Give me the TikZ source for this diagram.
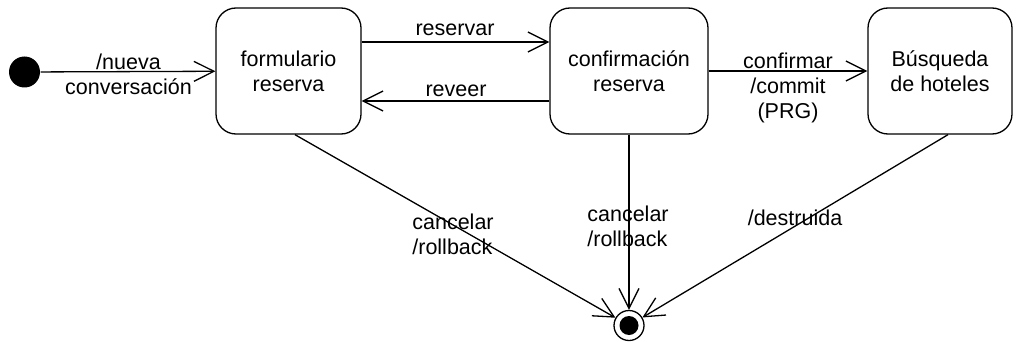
\documentclass[tikz,border=0pt]{standalone}
\usepackage{fontspec}
\setmainfont{Liberation Sans}
\usetikzlibrary{arrows.meta}

\tikzset{
  estado/.style={draw, line width=1.3pt, rounded corners=20pt, minimum height=126pt, align=center, inner sep=0pt},
  etiqueta/.style={align=center, inner sep=0pt},
}

\begin{document}
\begin{tikzpicture}[x=1pt, y=-1pt, line width=1.3pt, font=\fontsize{21.5}{25}\selectfont]

\useasboundingbox (0,0) rectangle (1016,342);

\node[circle, fill, minimum size=31pt, inner sep=0pt] (inicio) at (24.5,72) {};
\node[estado, minimum width=145pt] (form) at (288.5,71) {formulario\\reserva};
\node[estado, minimum width=158pt] (conf) at (629,71) {confirmación\\reserva};
\node[estado, minimum width=144pt] (busq) at (940,71) {Búsqueda\\de hoteles};

\node[circle, draw, minimum size=30pt, inner sep=0pt] (fin) at (629,325.5) {};
\fill (fin) circle (9.5pt);

\begin{scope}[-{Straight Barb[length=20pt, width=20pt]}]
\draw (inicio) -- (form);
\draw ([yshift=29pt]form.east) -- ([yshift=29pt]conf.west);
\draw ([yshift=-30pt]conf.west) -- ([yshift=-30pt]form.east);
\draw (conf) -- (busq);
\draw ([xshift=6.5pt]form.south) -- (fin);
\draw (conf.south) -- (fin);
\draw ([xshift=8pt]busq.south) -- (fin);
\end{scope}

\node[etiqueta] (lbnueva) at (128.5,74) {/nueva\\conversación};
\node[etiqueta] (lbreservar) at (455,30) {reservar};
\node[etiqueta] (lbreveer) at (456,91) {reveer};
\node[etiqueta] (lbconfirmar) at (788,88) {confirmar\\/commit\\(PRG)};
\node[etiqueta, align=left] (lbcancelar) at (453,234) {cancelar\\/rollback};
\node[etiqueta, align=left] (lbcancelardos) at (628,226) {cancelar\\/rollback};
\node[etiqueta] (lbdestruida) at (795,218) {/destruida};

\end{tikzpicture}
\end{document}
